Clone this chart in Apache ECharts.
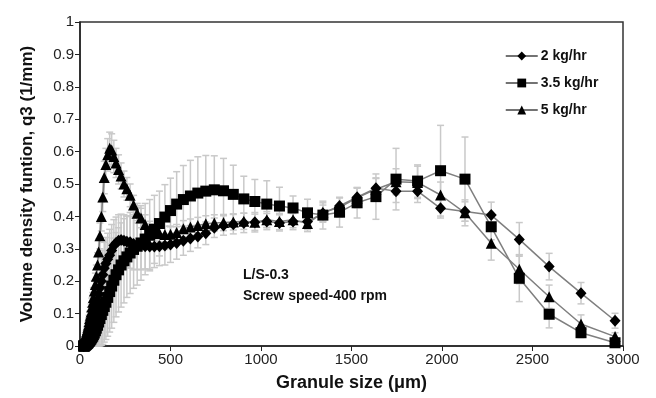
<!DOCTYPE html>
<html>
<head>
<meta charset="utf-8">
<script src="https://cdn.jsdelivr.net/npm/echarts@6/dist/echarts.min.js"></script>
<style>
  html, body { margin: 0; padding: 0; background: #fff; }
  #chart { width: 656px; height: 398px; }
</style>
</head>
<body>
<div id="chart"></div>
<script>
// granule size (um), shared by all three runs
const sizes = [20, 21, 23, 24, 26, 28, 30, 32, 34, 36, 38,
  41, 44, 47, 50, 53, 57, 61, 65, 70, 74, 79, 85, 90,
  97, 103, 110, 118, 126, 134, 143, 153, 164, 175, 187,
  199, 213, 227, 243, 259, 277, 296, 316, 337, 360, 385, 411, 439, 469,
  500, 534, 571, 610, 651, 695, 742, 793, 847, 905, 966, 1032, 1102, 1177, 1257,
  1342, 1434, 1531, 1635, 1746, 1865, 1992, 2127, 2272, 2427, 2592, 2768, 2956]

// 2 kg/hr
const q2 = [0, 0, 0.002, 0.003, 0.004, 0.005, 0.006, 0.008, 0.01, 0.012, 0.015,
  0.018, 0.022, 0.027, 0.032, 0.038, 0.045, 0.052, 0.06, 0.07, 0.08, 0.092, 0.105, 0.12,
  0.14, 0.16, 0.18, 0.2, 0.22, 0.24, 0.255, 0.268, 0.28, 0.295, 0.31,
  0.318, 0.325, 0.327, 0.325, 0.322, 0.32, 0.315, 0.312, 0.31, 0.308, 0.307, 0.307, 0.308, 0.31,
  0.313, 0.318, 0.325, 0.332, 0.338, 0.348, 0.365, 0.372, 0.376, 0.38, 0.382, 0.384, 0.38, 0.384, 0.384,
  0.41, 0.432, 0.459, 0.487, 0.478, 0.478, 0.425, 0.415, 0.404, 0.329, 0.245, 0.163, 0.078]
const err2 = [0.002, 0.002, 0.003, 0.003, 0.004, 0.004, 0.005, 0.005, 0.006, 0.006, 0.007,
  0.008, 0.01, 0.012, 0.014, 0.016, 0.018, 0.02, 0.025, 0.03, 0.035, 0.04, 0.045, 0.05,
  0.055, 0.06, 0.065, 0.07, 0.075, 0.08, 0.08, 0.08, 0.08, 0.08, 0.08,
  0.08, 0.08, 0.08, 0.08, 0.08, 0.08, 0.08, 0.075, 0.075, 0.07, 0.07, 0.065, 0.06, 0.06,
  0.055, 0.05, 0.045, 0.04, 0.035, 0.035, 0.03, 0.03, 0.03, 0.03, 0.03, 0.025, 0.025, 0.025, 0.025,
  0.025, 0.025, 0.03, 0.03, 0.035, 0.035, 0.03, 0.03, 0.04, 0.052, 0.041, 0.033, 0.023]

// 3.5 kg/hr
const q35 = [0, 0, 0, 0, 0.001, 0.002, 0.003, 0.004, 0.005, 0.006, 0.007,
  0.008, 0.01, 0.012, 0.014, 0.016, 0.019, 0.022, 0.026, 0.03, 0.035, 0.04, 0.047, 0.055,
  0.064, 0.074, 0.085, 0.097, 0.11, 0.122, 0.135, 0.15, 0.168, 0.185, 0.203,
  0.22, 0.235, 0.25, 0.263, 0.275, 0.287, 0.298, 0.308, 0.318, 0.33, 0.342, 0.36, 0.378, 0.398,
  0.418, 0.438, 0.452, 0.463, 0.472, 0.478, 0.482, 0.479, 0.468, 0.454, 0.446, 0.438, 0.432, 0.426, 0.411,
  0.404, 0.413, 0.442, 0.461, 0.515, 0.509, 0.541, 0.515, 0.368, 0.209, 0.098, 0.041, 0.01]
const err35 = [0, 0, 0, 0, 0.001, 0.002, 0.003, 0.004, 0.005, 0.006, 0.007,
  0.008, 0.01, 0.012, 0.014, 0.016, 0.019, 0.022, 0.026, 0.03, 0.035, 0.04, 0.047, 0.055,
  0.064, 0.074, 0.085, 0.095, 0.105, 0.11, 0.115, 0.12, 0.125, 0.13, 0.13,
  0.13, 0.13, 0.13, 0.13, 0.125, 0.125, 0.12, 0.12, 0.115, 0.11, 0.11, 0.105, 0.1, 0.1,
  0.1, 0.1, 0.105, 0.11, 0.112, 0.11, 0.105, 0.1, 0.09, 0.07, 0.068, 0.072, 0.058, 0.037, 0.042,
  0.043, 0.046, 0.047, 0.07, 0.095, 0.05, 0.14, 0.13, 0.04, 0.072, 0.042, 0.015, 0.005]

// 5 kg/hr
const q5 = [0.005, 0.008, 0.01, 0.013, 0.016, 0.02, 0.025, 0.03, 0.035, 0.04, 0.045,
  0.05, 0.058, 0.065, 0.075, 0.085, 0.095, 0.105, 0.12, 0.135, 0.15, 0.17, 0.19, 0.215,
  0.25, 0.29, 0.34, 0.4, 0.46, 0.52, 0.56, 0.59, 0.61, 0.605, 0.585,
  0.565, 0.545, 0.525, 0.5, 0.485, 0.465, 0.435, 0.41, 0.395, 0.375, 0.36, 0.352, 0.347, 0.344,
  0.345, 0.35, 0.362, 0.367, 0.372, 0.377, 0.38, 0.381, 0.383, 0.385, 0.382, 0.39, 0.384, 0.39, 0.378,
  0.412, 0.428, 0.457, 0.484, 0.507, 0.505, 0.466, 0.411, 0.317, 0.237, 0.152, 0.068, 0.029]
const err5 = [0.005, 0.005, 0.005, 0.005, 0.008, 0.008, 0.01, 0.01, 0.012, 0.012, 0.015,
  0.015, 0.018, 0.02, 0.02, 0.022, 0.025, 0.025, 0.028, 0.03, 0.03, 0.032, 0.035, 0.035,
  0.038, 0.04, 0.04, 0.045, 0.045, 0.05, 0.05, 0.05, 0.05, 0.05, 0.05,
  0.045, 0.045, 0.04, 0.04, 0.035, 0.035, 0.03, 0.03, 0.03, 0.03, 0.025, 0.025, 0.025, 0.025,
  0.025, 0.025, 0.025, 0.025, 0.025, 0.025, 0.025, 0.025, 0.025, 0.025, 0.025, 0.025, 0.025, 0.025, 0.025,
  0.03, 0.03, 0.03, 0.035, 0.04, 0.05, 0.04, 0.04, 0.052, 0.045, 0.036, 0.028, 0.012]

const font = '"Liberation Sans", Arial, sans-serif'
const lineGray = '#7f7f7f'
const barGray = '#c9c9c9'

const pairs = (ys) => sizes.map((x, i) => [x, ys[i]])
const triples = (ys, es) => sizes.map((x, i) => [x, ys[i], es[i]])

const errorSeries = (ys, es) => ({
  type: 'custom',
  silent: true,
  z: 1,
  data: triples(ys, es),
  renderItem: function (params, api) {
    const x = api.value(0), y = api.value(1), e = api.value(2)
    const top = api.coord([x, y + e])
    const bot = api.coord([x, Math.max(0, y - e)])
    const st = { stroke: barGray, lineWidth: 1.5 }
    return {
      type: 'group',
      children: [
        { type: 'line', shape: { x1: top[0], y1: top[1], x2: bot[0], y2: bot[1] }, style: st },
        { type: 'line', shape: { x1: top[0] - 3.5, y1: top[1], x2: top[0] + 3.5, y2: top[1] }, style: st },
        { type: 'line', shape: { x1: bot[0] - 3.5, y1: bot[1], x2: bot[0] + 3.5, y2: bot[1] }, style: st }
      ]
    }
  }
})

const lineSeries = (name, ys, symbol, size) => ({
  name: name,
  type: 'line',
  z: 3,
  data: pairs(ys),
  symbol: symbol,
  symbolSize: size,
  showAllSymbol: true,
  lineStyle: { color: lineGray, width: 1.5 },
  itemStyle: { color: '#000', borderWidth: 0 }
})

const chart = echarts.init(document.getElementById('chart'), null, { renderer: 'canvas' })
chart.setOption({
  animation: false,
  backgroundColor: '#fff',
  textStyle: { fontFamily: font },
  grid: { left: 80, right: 33, top: 22, bottom: 52, show: true, borderColor: '#333', borderWidth: 1.5 },
  legend: {
    orient: 'vertical',
    left: 500,
    top: 44,
    itemGap: 13,
    itemWidth: 32,
    itemHeight: 11,
    lineStyle: { color: '#444', width: 1.5 },
    textStyle: { fontFamily: font, fontSize: 14, fontWeight: 'bold', color: '#111', padding: [0, 0, 0, -2] },
    data: ['2 kg/hr', '3.5 kg/hr', '5 kg/hr']
  },
  xAxis: {
    type: 'value',
    min: 0, max: 3000, interval: 500,
    name: 'Granule size (\u03bcm)',
    nameLocation: 'middle',
    nameGap: 28,
    nameTextStyle: { fontFamily: font, fontSize: 18, fontWeight: 'bold', color: '#111' },
    axisLine: { lineStyle: { color: '#222', width: 1.5 } },
    axisTick: { show: true, length: 5, lineStyle: { color: '#222' } },
    axisLabel: { fontFamily: font, fontSize: 15, color: '#222', margin: 6, formatter: (v) => String(v) },
    splitLine: { show: false }
  },
  yAxis: {
    type: 'value',
    min: 0, max: 1, interval: 0.1,
    name: 'Volume density funtion, q3 (1/mm)',
    nameLocation: 'middle',
    nameGap: 44,
    nameTextStyle: { fontFamily: font, fontSize: 17, fontWeight: 'bold', color: '#111' },
    axisLine: { show: true, lineStyle: { color: '#222', width: 1.5 } },
    axisTick: { show: true, length: 5, lineStyle: { color: '#222' } },
    axisLabel: { fontFamily: font, fontSize: 15, color: '#222', margin: 6 },
    splitLine: { show: false }
  },
  graphic: [
    { type: 'text', left: 243, top: 268, style: { text: 'L/S-0.3', font: 'bold 14px ' + font, fill: '#111' } },
    { type: 'text', left: 243, top: 289, style: { text: 'Screw speed-400 rpm', font: 'bold 14px ' + font, fill: '#111' } }
  ],
  series: [
    errorSeries(q35, err35),
    errorSeries(q2, err2),
    errorSeries(q5, err5),
    lineSeries('2 kg/hr', q2, 'diamond', [11, 12]),
    lineSeries('3.5 kg/hr', q35, 'rect', 11),
    lineSeries('5 kg/hr', q5, 'triangle', 11)
  ]
})
</script>
</body>
</html>
